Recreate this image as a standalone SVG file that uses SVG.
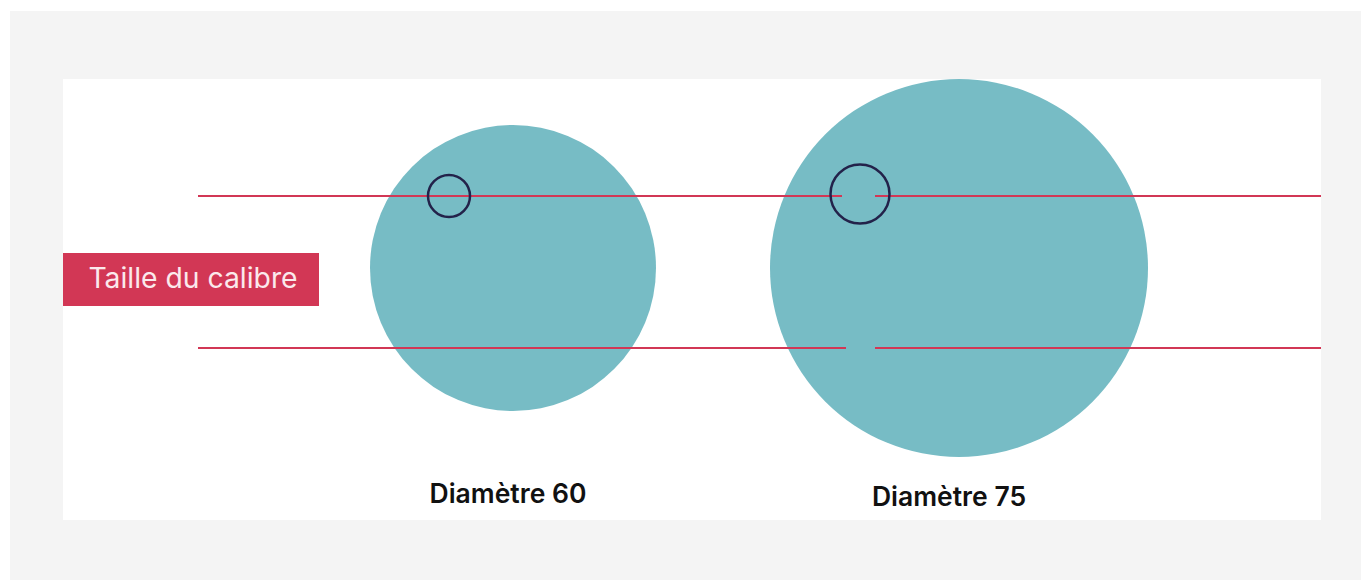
<svg xmlns="http://www.w3.org/2000/svg" width="1361" height="580" viewBox="0 0 1361 580">
<style>
.big{fill:#77bcc5}
.red{stroke:#d23755;stroke-width:2;fill:none}
.ring{fill:none;stroke:#23224a;stroke-width:2.5}
.cap{font-family:"Inter","Liberation Sans",sans-serif;font-size:26.5px;font-weight:600;fill:#111}
.lab{font-family:"Inter","Liberation Sans",sans-serif;font-size:28.3px;fill:#fbe9ec}
</style>
<rect width="1361" height="580" fill="#fff"/>
<rect x="10" y="11" width="1351" height="569" fill="#f4f4f4"/>
<rect x="63" y="79" width="1258" height="441" fill="#fff"/>
<g id="circle60">
<circle class="big" cx="513" cy="268" r="143"/>
</g>
<g id="circle75">
<circle class="big" cx="959" cy="268" r="189"/>
</g>
<g id="connectors">
<line class="red" x1="198" y1="196" x2="842" y2="196"/>
<line class="red" x1="875" y1="196" x2="1321" y2="196"/>
<line class="red" x1="198" y1="348" x2="846" y2="348"/>
<line class="red" x1="875" y1="348" x2="1321" y2="348"/>
</g>
<g id="ring60">
<circle class="ring" cx="449" cy="196" r="21"/>
</g>
<g id="ring75">
<circle class="ring" cx="860" cy="194" r="29.5"/>
</g>
<g id="label">
<rect x="63" y="253" width="256" height="53" fill="#d23755"/>
<text class="lab" x="193" y="288" text-anchor="middle">Taille du calibre</text>
</g>
<g id="caption60">
<text class="cap" x="508" y="503" text-anchor="middle">Diamètre 60</text>
</g>
<g id="caption75">
<text class="cap" x="949" y="506" text-anchor="middle">Diamètre 75</text>
</g>
</svg>
